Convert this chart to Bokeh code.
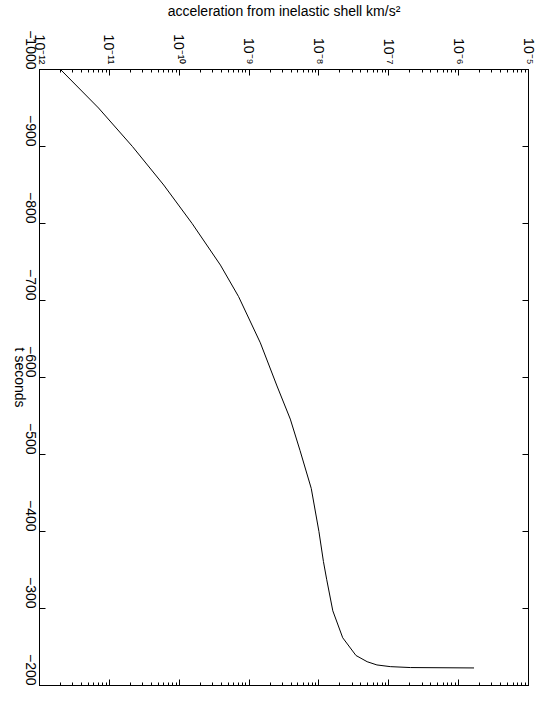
import math
from bokeh.plotting import figure
from bokeh.models import Range1d, LogAxis, LinearAxis, FixedTicker, LogTicker
from bokeh.embed import file_html
from bokeh.resources import INLINE

# data
t_seconds = [-1000, -950, -900, -850, -800, -746, -705, -645, -589, -546, -505,
             -456, -400, -361, -338, -297, -262, -239, -230.9, -226.7, -224.5, -223.3, -222.8]
accel = [2.0e-12, 7.0e-12, 2.14e-11, 6.0e-11, 1.53e-10, 3.89e-10, 7.08e-10, 1.45e-9,
         2.51e-9, 3.89e-9, 5.37e-9, 7.76e-9, 1.0e-8, 1.16e-8, 1.29e-8, 1.58e-8,
         2.19e-8, 3.39e-8, 4.9e-8, 6.76e-8, 1.05e-7, 2.04e-7, 1.66e-6]

x_ticks = [1e-12, 1e-11, 1e-10, 1e-9, 1e-8, 1e-7, 1e-6, 1e-5]
x_tick_labels = ["10\u207b\u00b9\u00b2", "10\u207b\u00b9\u00b9", "10\u207b\u00b9\u2070", "10\u207b\u2079",
                 "10\u207b\u2078", "10\u207b\u2077", "10\u207b\u2076", "10\u207b\u2075"]
y_ticks = [-1000, -900, -800, -700, -600, -500, -400, -300, -200]
y_tick_labels = ["\u22121000", "\u2212900", "\u2212800", "\u2212700", "\u2212600",
                 "\u2212500", "\u2212400", "\u2212300", "\u2212200"]
x_title = "acceleration from inelastic shell km/s\u00b2"
y_title = "t seconds"
# the rotated title text ends at its anchor; anchor placed so the text is centred on the axis
y_title_at = -561

FONT = "Liberation Sans"

p = figure(width=546, height=703, x_axis_type="log", x_axis_location="above",
           x_range=Range1d(1e-12, 1e-5), y_range=Range1d(-200, -1000),
           output_backend="svg", toolbar_location=None,
           min_border_left=39, min_border_top=65, min_border_right=18, min_border_bottom=18)
p.xgrid.visible = False
p.ygrid.visible = False
p.outline_line_color = "black"
p.outline_line_width = 1
p.background_fill_color = "white"
p.border_fill_color = "white"

p.line(accel, t_seconds, line_color="black", line_width=1)

def style_x(ax, labels=True):
    ax.ticker = LogTicker(desired_num_ticks=8, num_minor_ticks=10)
    ax.major_tick_in = 6
    ax.major_tick_out = 0
    ax.minor_tick_in = 3
    ax.minor_tick_out = 0
    ax.axis_line_color = "black"
    ax.major_tick_line_color = "black"
    ax.minor_tick_line_color = "black"
    if labels:
        ax.major_label_overrides = {v: s for v, s in zip(x_ticks, x_tick_labels)}
        ax.major_label_orientation = -math.pi / 2
        ax.major_label_text_font = FONT
        ax.major_label_text_font_size = "14px"
        ax.major_label_text_color = "black"
        ax.major_label_standoff = 5
    else:
        ax.major_label_text_font_size = "1px"
        ax.major_label_text_alpha = 0
        ax.major_label_standoff = 0

def style_y(ax, labels=True):
    ax.ticker = FixedTicker(ticks=y_ticks)
    ax.major_tick_in = 6
    ax.major_tick_out = 0
    ax.axis_line_color = "black"
    ax.major_tick_line_color = "black"
    if labels:
        ax.major_label_overrides = {v: s for v, s in zip(y_ticks, y_tick_labels)}
        ax.major_label_orientation = -math.pi / 2
        ax.major_label_text_font = FONT
        ax.major_label_text_font_size = "14px"
        ax.major_label_text_color = "black"
        ax.major_label_standoff = 9
    else:
        ax.major_label_text_font_size = "1px"
        ax.major_label_text_alpha = 0
        ax.major_label_standoff = 0

top = p.xaxis[0]
style_x(top)
top.axis_label = x_title
top.axis_label_text_font = FONT
top.axis_label_text_font_size = "14px"
top.axis_label_text_font_style = "normal"
top.axis_label_text_color = "black"
top.axis_label_standoff = 12

left = p.yaxis[0]
style_y(left)

# outer left axis that only carries the "t seconds" title, rotated like the reference
title_axis = LinearAxis(ticker=FixedTicker(ticks=[y_title_at]))
title_axis.major_label_overrides = {y_title_at: y_title}
title_axis.major_label_orientation = -math.pi / 2
title_axis.major_label_text_font = FONT
title_axis.major_label_text_font_size = "14px"
title_axis.major_label_text_color = "black"
title_axis.major_label_standoff = -2
title_axis.major_tick_in = 0
title_axis.major_tick_out = 0
title_axis.minor_tick_in = 0
title_axis.minor_tick_out = 0
title_axis.axis_line_color = None
title_axis.major_tick_line_color = None
title_axis.minor_tick_line_color = None
p.add_layout(title_axis, "left")

bottom = LogAxis()
style_x(bottom, labels=False)
p.add_layout(bottom, "below")

right = LinearAxis()
style_y(right, labels=False)
p.add_layout(right, "right")

open("out.html", "w").write(file_html(p, INLINE))
